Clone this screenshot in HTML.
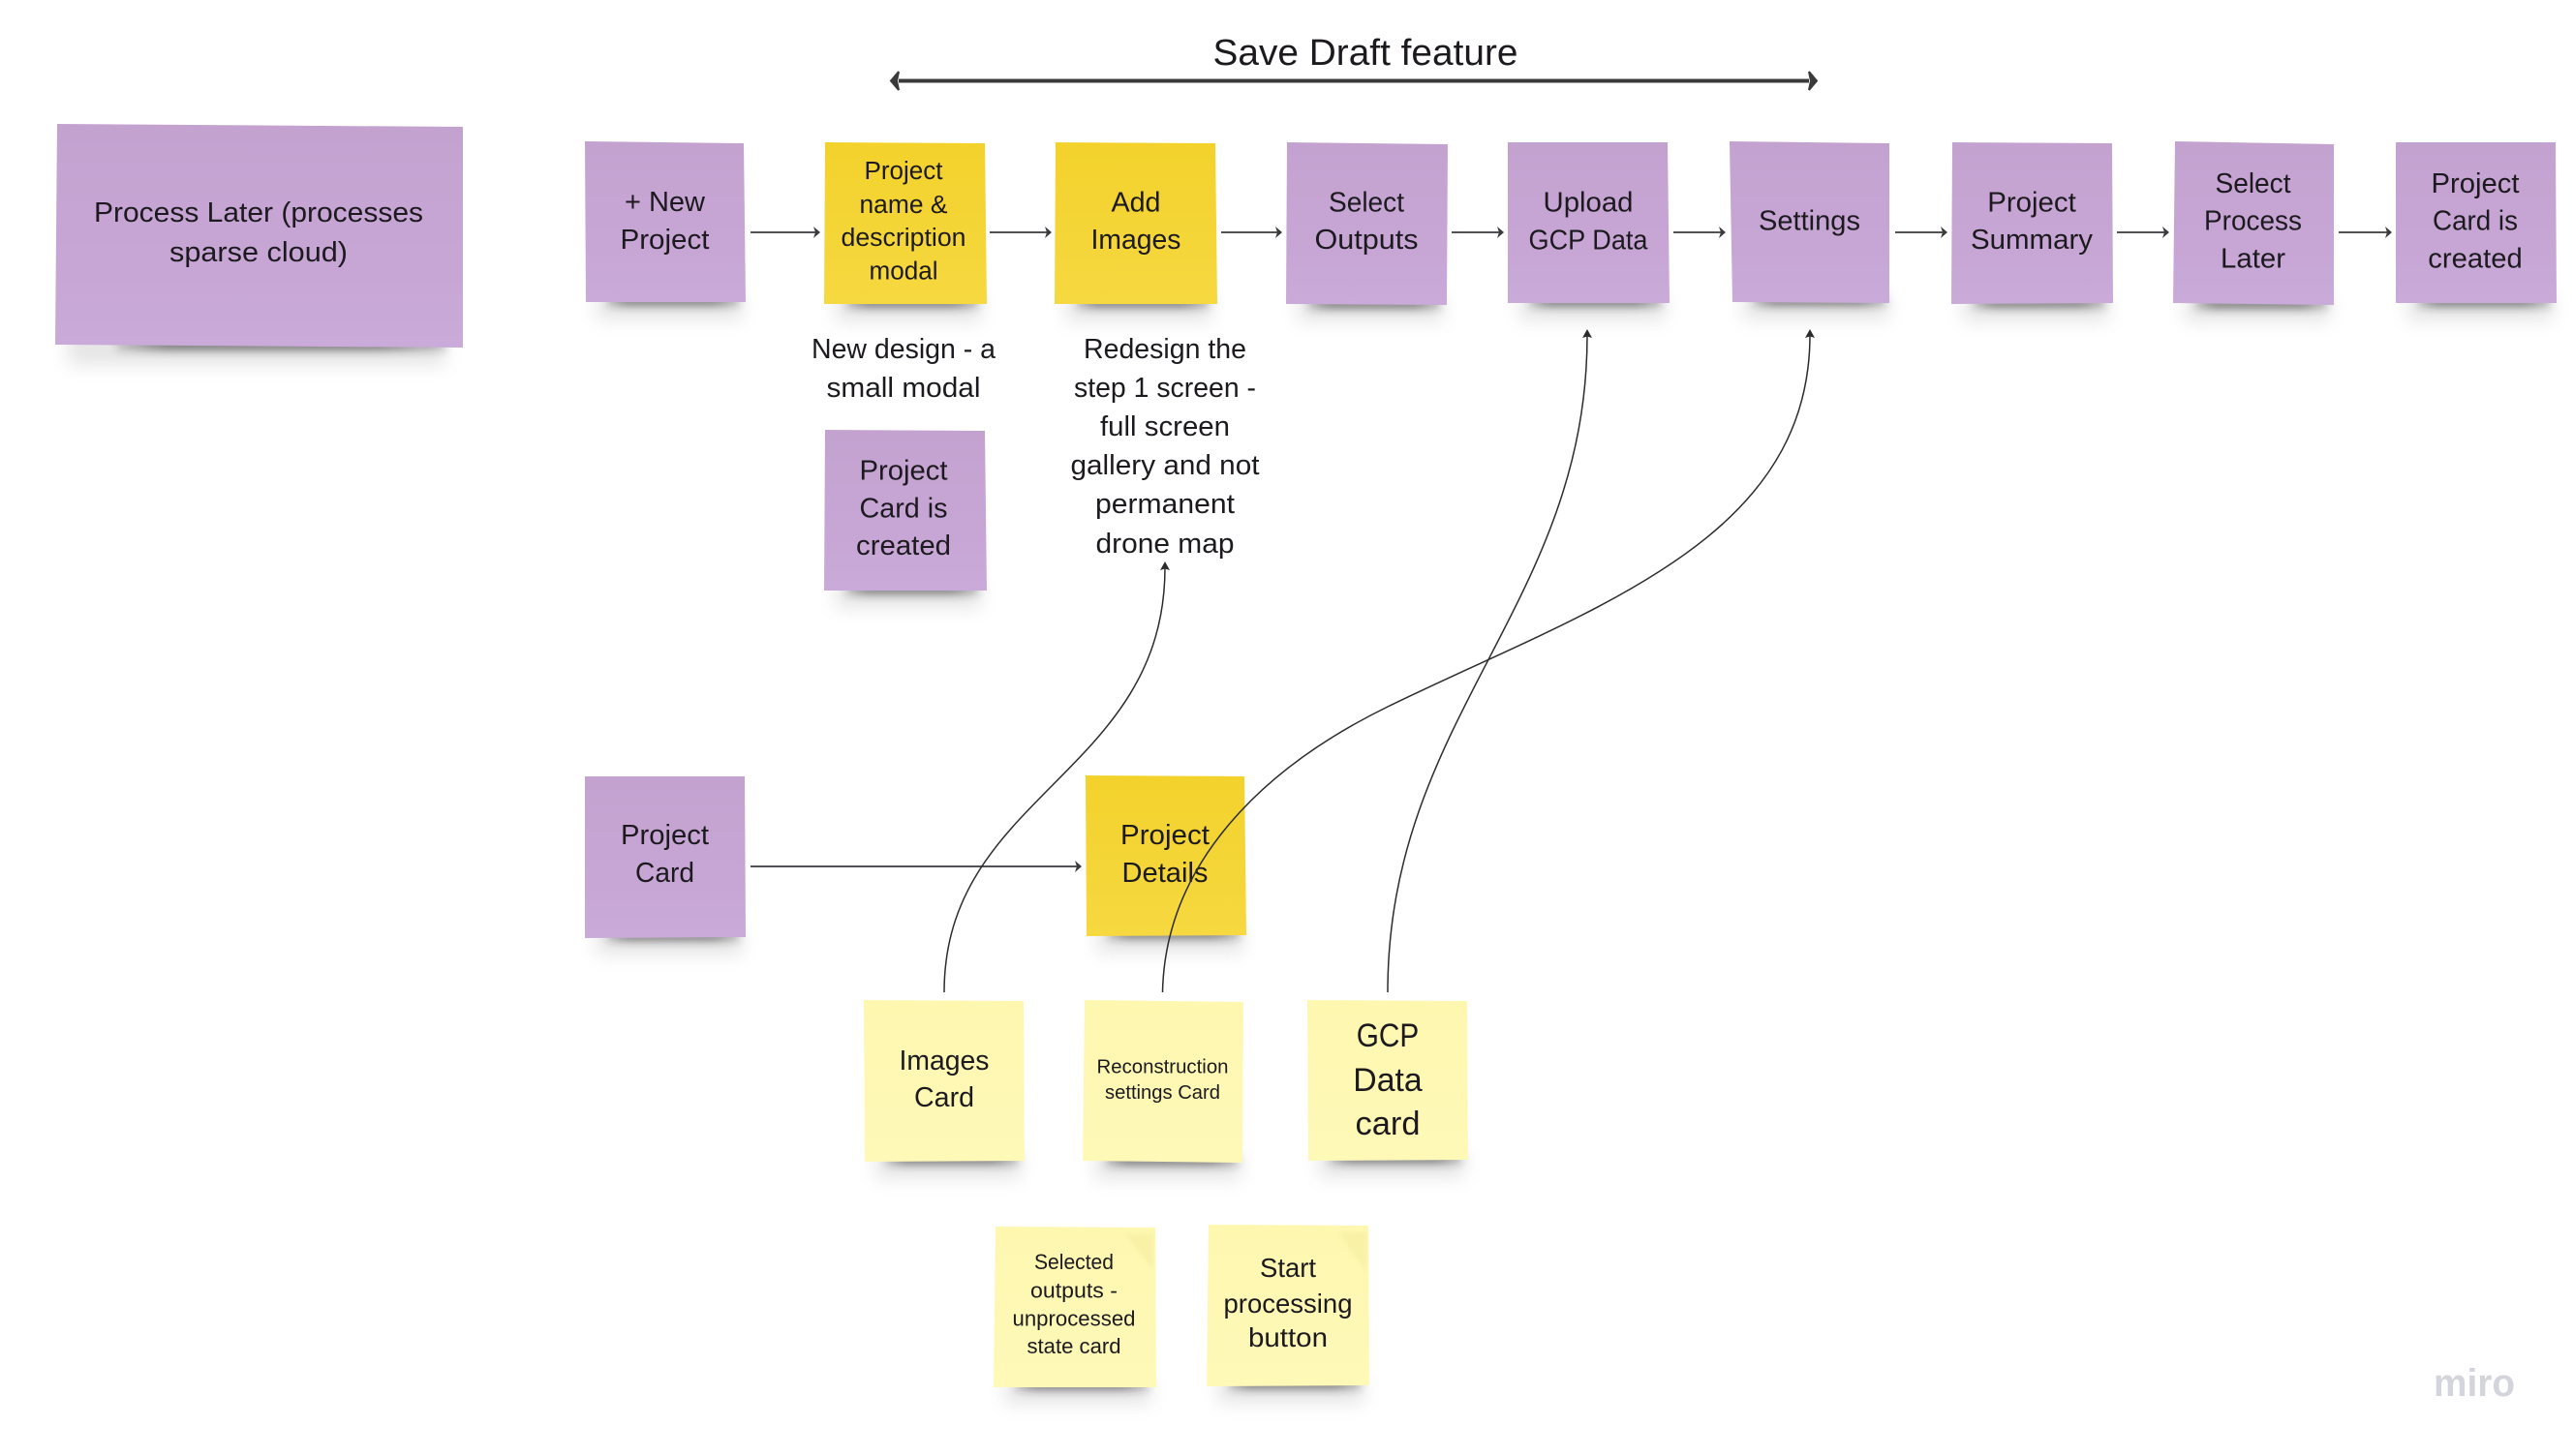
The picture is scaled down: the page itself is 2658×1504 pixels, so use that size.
<!DOCTYPE html>
<html>
<head>
<meta charset="utf-8">
<style>
html,body{margin:0;padding:0;background:#fff;width:2658px;height:1504px;overflow:hidden}
svg{display:block}
text{font-family:"Liberation Sans",sans-serif;fill:#1c1a1f;text-anchor:middle}
.s{filter:url(#b1);fill:url(#sg);opacity:.55;transform:translate(0,-2px)}
.g{filter:url(#b2);fill:#555;opacity:.15}
.p{fill:url(#pg)}.y{fill:url(#yg)}.l{fill:url(#lg)}
.a{stroke:#3a3a3e;stroke-width:1.8;fill:none}
.h{fill:#3a3a3e}
.c{stroke:#2c2c2e;stroke-width:1.5;fill:none}
.fold{fill:#f8f1a6;filter:url(#b3)}
.f28{font-size:29px}.f25{font-size:25.5px}.f20{font-size:20.5px}.f22{font-size:22.5px}.f27{font-size:27.5px}.f34{font-size:34px}
</style>
</head>
<body>
<svg width="2658" height="1504" viewBox="0 0 2658 1504" xmlns="http://www.w3.org/2000/svg">
<defs>
<linearGradient id="pg" x1="0" y1="0" x2="0" y2="1"><stop offset="0" stop-color="#c4a2d0"/><stop offset=".65" stop-color="#c7a6d5"/><stop offset="1" stop-color="#c9aad8"/></linearGradient>
<linearGradient id="yg" x1="0" y1="0" x2="0" y2="1"><stop offset="0" stop-color="#f3d22c"/><stop offset="1" stop-color="#f6d840"/></linearGradient>
<linearGradient id="lg" x1="0" y1="0" x2="0" y2="1"><stop offset="0" stop-color="#fdf7b0"/><stop offset="1" stop-color="#fff9b8"/></linearGradient>
<linearGradient id="sg" x1="0" y1="0" x2="1" y2="0"><stop offset="0" stop-color="#222" stop-opacity=".35"/><stop offset=".15" stop-color="#222"/><stop offset=".8" stop-color="#222"/><stop offset="1" stop-color="#222" stop-opacity=".4"/></linearGradient>
<filter id="b1" x="-30%" y="-200%" width="160%" height="500%"><feGaussianBlur stdDeviation="4.5"/></filter>
<filter id="b2" x="-30%" y="-200%" width="160%" height="500%"><feGaussianBlur stdDeviation="9"/></filter>
<filter id="b3" x="-30%" y="-30%" width="160%" height="160%"><feGaussianBlur stdDeviation="2"/></filter>
</defs>

<!-- shadows -->
<g>
<rect class="g" x="70" y="345" width="390" height="32"/><rect class="s" x="120" y="352" width="340" height="12"/>
<rect class="g" x="616" y="304" width="150" height="26"/><rect class="s" x="626" y="308" width="138" height="10"/>
<rect class="g" x="863" y="306" width="150" height="26"/><rect class="s" x="873" y="310" width="138" height="10"/>
<rect class="g" x="1101" y="306" width="150" height="26"/><rect class="s" x="1111" y="310" width="138" height="10"/>
<rect class="g" x="1340" y="306" width="150" height="26"/><rect class="s" x="1350" y="311" width="138" height="10"/>
<rect class="g" x="1569" y="305" width="150" height="26"/><rect class="s" x="1579" y="309" width="138" height="10"/>
<rect class="g" x="1800" y="304" width="150" height="26"/><rect class="s" x="1810" y="308" width="138" height="10"/>
<rect class="g" x="2027" y="306" width="150" height="26"/><rect class="s" x="2037" y="310" width="138" height="10"/>
<rect class="g" x="2256" y="306" width="150" height="26"/><rect class="s" x="2266" y="311" width="138" height="10"/>
<rect class="g" x="2486" y="305" width="150" height="26"/><rect class="s" x="2496" y="309" width="138" height="10"/>
<rect class="g" x="863" y="602" width="150" height="26"/><rect class="s" x="873" y="606" width="138" height="10"/>
<rect class="g" x="616" y="960" width="150" height="26"/><rect class="s" x="626" y="964" width="138" height="10"/>
<rect class="g" x="1133" y="958" width="150" height="26"/><rect class="s" x="1143" y="962" width="138" height="10"/>
<rect class="g" x="904" y="1191" width="150" height="26"/><rect class="s" x="914" y="1195" width="138" height="10"/>
<rect class="g" x="1131" y="1192" width="150" height="26"/><rect class="s" x="1141" y="1196" width="138" height="10"/>
<rect class="g" x="1362" y="1190" width="150" height="26"/><rect class="s" x="1372" y="1194" width="138" height="10"/>
<rect class="g" x="1038" y="1424" width="150" height="26"/><rect class="s" x="1048" y="1428" width="138" height="10"/>
<rect class="g" x="1258" y="1423" width="150" height="26"/><rect class="s" x="1268" y="1427" width="138" height="10"/>
</g>

<!-- cards -->
<polygon class="p" points="59,128 478,131 478,359 57,356"/>
<polygon class="p" points="604,146 768,148 770,312 605,312"/>
<polygon class="y" points="852,147 1017,148 1019,314 851,314"/>
<polygon class="y" points="1090,147 1255,148 1257,314 1089,314"/>
<polygon class="p" points="1329,147 1495,149 1494,315 1328,314"/>
<polygon class="p" points="1557,147 1722,147 1724,313 1557,313"/>
<polygon class="p" points="1786,146 1951,148 1951,313 1789,312"/>
<polygon class="p" points="2016,147 2181,148 2182,313 2015,314"/>
<polygon class="p" points="2246,146 2410,149 2410,315 2244,313"/>
<polygon class="p" points="2474,147 2639,147 2640,313 2474,313"/>
<polygon class="p" points="852,444 1017,445 1019,610 851,610"/>
<polygon class="p" points="604,802 769,802 770,968 604,969"/>
<polygon class="y" points="1121,801 1285,802 1287,966 1122,967"/>
<polygon class="l" points="892,1033 1057,1034 1058,1199 893,1200"/>
<polygon class="l" points="1120,1033 1284,1035 1283,1201 1118,1199"/>
<polygon class="l" points="1350,1033 1515,1034 1516,1198 1351,1199"/>
<polygon class="l" points="1028,1267 1193,1268 1194,1433 1026,1433"/>
<polygon class="l" points="1248,1265 1413,1266 1414,1431 1246,1432"/>
<polygon class="fold" points="1162,1275 1191,1275 1191,1312"/>
<polygon class="fold" points="1382,1273 1411,1273 1411,1314"/>

<!-- top double arrow -->
<line x1="928" y1="83.5" x2="1868" y2="83.5" stroke="#3a3a3a" stroke-width="4"/>
<polygon points="920,83.5 928,74 926,83.5 928,93" fill="#3a3a3a" stroke="#3a3a3a" stroke-width="2"/>
<polygon points="1876,83.5 1868,74 1870,83.5 1868,93" fill="#3a3a3a" stroke="#3a3a3a" stroke-width="2"/>
<text x="1410" y="67" font-size="38" textLength="315" lengthAdjust="spacingAndGlyphs">Save Draft feature</text>

<!-- straight arrows -->
<g>
<line class="a" x1="775" y1="240" x2="845" y2="240"/><polygon class="h" points="847,240 840,234 842,240 840,246"/>
<line class="a" x1="1022" y1="240" x2="1084" y2="240"/><polygon class="h" points="1086,240 1079,234 1081,240 1079,246"/>
<line class="a" x1="1261" y1="240" x2="1322" y2="240"/><polygon class="h" points="1324,240 1317,234 1319,240 1317,246"/>
<line class="a" x1="1499" y1="240" x2="1551" y2="240"/><polygon class="h" points="1553,240 1546,234 1548,240 1546,246"/>
<line class="a" x1="1728" y1="240" x2="1780" y2="240"/><polygon class="h" points="1782,240 1775,234 1777,240 1775,246"/>
<line class="a" x1="1957" y1="240" x2="2009" y2="240"/><polygon class="h" points="2011,240 2004,234 2006,240 2004,246"/>
<line class="a" x1="2186" y1="240" x2="2238" y2="240"/><polygon class="h" points="2240,240 2233,234 2235,240 2233,246"/>
<line class="a" x1="2415" y1="240" x2="2468" y2="240"/><polygon class="h" points="2470,240 2463,234 2465,240 2463,246"/>
<line class="a" x1="775" y1="895" x2="1115" y2="895"/><polygon class="h" points="1117,895 1110,889 1112,895 1110,901"/>
</g>

<!-- text in cards -->
<text class="f28" x="267" y="229" textLength="340" lengthAdjust="spacingAndGlyphs">Process Later (processes</text>
<text class="f28" x="267" y="270" textLength="184" lengthAdjust="spacingAndGlyphs">sparse cloud)</text>
<text class="f28" x="686.5" y="218" textLength="83" lengthAdjust="spacingAndGlyphs">+ New</text>
<text class="f28" x="686.5" y="257" textLength="92" lengthAdjust="spacingAndGlyphs">Project</text>
<text class="f25" x="933" y="185" textLength="81" lengthAdjust="spacingAndGlyphs">Project</text>
<text class="f25" x="933" y="220" textLength="91" lengthAdjust="spacingAndGlyphs">name &amp;</text>
<text class="f25" x="933" y="254" textLength="129" lengthAdjust="spacingAndGlyphs">description</text>
<text class="f25" x="933" y="288.5" textLength="71" lengthAdjust="spacingAndGlyphs">modal</text>
<text class="f28" x="1173" y="218.5" textLength="51" lengthAdjust="spacingAndGlyphs">Add</text>
<text class="f28" x="1173" y="257" textLength="93" lengthAdjust="spacingAndGlyphs">Images</text>
<text class="f28" x="1411" y="218.5" textLength="78" lengthAdjust="spacingAndGlyphs">Select</text>
<text class="f28" x="1411" y="257" textLength="107" lengthAdjust="spacingAndGlyphs">Outputs</text>
<text class="f28" x="1640" y="218.5" textLength="93" lengthAdjust="spacingAndGlyphs">Upload</text>
<text class="f28" x="1640" y="257.5" textLength="123" lengthAdjust="spacingAndGlyphs">GCP Data</text>
<text class="f28" x="1868.5" y="237.5" textLength="105" lengthAdjust="spacingAndGlyphs">Settings</text>
<text class="f28" x="2098" y="218.5" textLength="91.5" lengthAdjust="spacingAndGlyphs">Project</text>
<text class="f28" x="2098" y="257" textLength="126" lengthAdjust="spacingAndGlyphs">Summary</text>
<text class="f28" x="2326.5" y="199" textLength="78" lengthAdjust="spacingAndGlyphs">Select</text>
<text class="f28" x="2326.5" y="237.5" textLength="101" lengthAdjust="spacingAndGlyphs">Process</text>
<text class="f28" x="2326.5" y="276.5" textLength="67" lengthAdjust="spacingAndGlyphs">Later</text>
<text class="f28" x="2556" y="199" textLength="91" lengthAdjust="spacingAndGlyphs">Project</text>
<text class="f28" x="2556" y="237.5" textLength="88" lengthAdjust="spacingAndGlyphs">Card is</text>
<text class="f28" x="2556" y="276.5" textLength="97.5" lengthAdjust="spacingAndGlyphs">created</text>

<text class="f28" x="933" y="370" textLength="190" lengthAdjust="spacingAndGlyphs">New design - a</text>
<text class="f28" x="933" y="410" textLength="159" lengthAdjust="spacingAndGlyphs">small modal</text>
<text class="f28" x="1203" y="370" textLength="168" lengthAdjust="spacingAndGlyphs">Redesign the</text>
<text class="f28" x="1203" y="410" textLength="188" lengthAdjust="spacingAndGlyphs">step 1 screen -</text>
<text class="f28" x="1203" y="450" textLength="134" lengthAdjust="spacingAndGlyphs">full screen</text>
<text class="f28" x="1203" y="490" textLength="195" lengthAdjust="spacingAndGlyphs">gallery and not</text>
<text class="f28" x="1203" y="530" textLength="144" lengthAdjust="spacingAndGlyphs">permanent</text>
<text class="f28" x="1203" y="571" textLength="143" lengthAdjust="spacingAndGlyphs">drone map</text>

<text class="f28" x="933" y="495.5" textLength="91" lengthAdjust="spacingAndGlyphs">Project</text>
<text class="f28" x="933" y="534.5" textLength="91" lengthAdjust="spacingAndGlyphs">Card is</text>
<text class="f28" x="933" y="573" textLength="98" lengthAdjust="spacingAndGlyphs">created</text>

<text class="f28" x="686.5" y="872" textLength="91" lengthAdjust="spacingAndGlyphs">Project</text>
<text class="f28" x="686.5" y="911" textLength="61" lengthAdjust="spacingAndGlyphs">Card</text>
<text class="f28" x="1203" y="872" textLength="92" lengthAdjust="spacingAndGlyphs">Project</text>
<text class="f28" x="1203" y="911" textLength="89" lengthAdjust="spacingAndGlyphs">Details</text>
<text class="f28" x="975" y="1105" textLength="93" lengthAdjust="spacingAndGlyphs">Images</text>
<text class="f28" x="975" y="1143" textLength="62" lengthAdjust="spacingAndGlyphs">Card</text>
<text class="f20" x="1200.5" y="1108.5" textLength="136" lengthAdjust="spacingAndGlyphs">Reconstruction</text>
<text class="f20" x="1200.5" y="1135" textLength="119" lengthAdjust="spacingAndGlyphs">settings Card</text>
<text class="f34" x="1433" y="1081" textLength="64.5" lengthAdjust="spacingAndGlyphs">GCP</text>
<text class="f34" x="1433" y="1127" textLength="71.5" lengthAdjust="spacingAndGlyphs">Data</text>
<text class="f34" x="1433" y="1172" textLength="67" lengthAdjust="spacingAndGlyphs">card</text>
<text class="f22" x="1109" y="1311" textLength="82" lengthAdjust="spacingAndGlyphs">Selected</text>
<text class="f22" x="1109" y="1340.5" textLength="90" lengthAdjust="spacingAndGlyphs">outputs -</text>
<text class="f22" x="1109" y="1369.5" textLength="127" lengthAdjust="spacingAndGlyphs">unprocessed</text>
<text class="f22" x="1109" y="1398" textLength="97" lengthAdjust="spacingAndGlyphs">state card</text>
<text class="f27" x="1330" y="1319" textLength="58" lengthAdjust="spacingAndGlyphs">Start</text>
<text class="f27" x="1330" y="1356" textLength="133" lengthAdjust="spacingAndGlyphs">processing</text>
<text class="f27" x="1330" y="1391" textLength="82" lengthAdjust="spacingAndGlyphs">button</text>

<!-- curved connectors -->
<path class="c" d="M975 1025 C975 820 1203 800 1203 586"/>
<polygon points="1203,580 1198,589 1203,587.5 1208,589" fill="#2c2c2e"/>
<path class="c" d="M1433 1025 C1433 740 1639 625 1639 346"/>
<polygon points="1639,340 1634,349 1639,347.5 1644,349" fill="#2c2c2e"/>
<path class="c" d="M1200.5 1025 C1203 895 1300 795 1433 730 C1640 629 1869 560 1869 346"/>
<polygon points="1869,340 1864,349 1869,347.5 1874,349" fill="#2c2c2e"/>

<text x="2555" y="1442" font-size="40" font-weight="bold" textLength="84" lengthAdjust="spacingAndGlyphs" style="fill:#d4d4dc">miro</text>
</svg>
</body>
</html>
